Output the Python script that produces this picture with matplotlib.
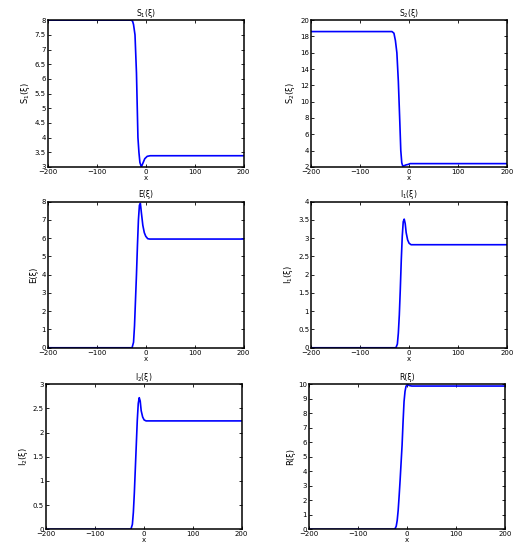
import matplotlib
matplotlib.use("Agg")
import matplotlib.pyplot as plt

# values
x_s1 = [-200, -30, -27, -25, -22, -19, -16, -14, -12, -9, -6, -2, 3, 9, 200]
y_s1 = [8, 8, 7.97, 7.85, 7.5, 6.2, 4.0, 3.5, 3.15, 3.0, 3.12, 3.28, 3.36, 3.38, 3.38]

x_s2 = [-200, -35, -31, -28, -25, -22, -19, -17, -15, -13, -10, -6, -2, 2, 200]
y_s2 = [18.6, 18.6, 18.4, 17.5, 16.0, 12.5, 7.5, 4.0, 2.5, 2.1, 2.15, 2.25, 2.3, 2.4, 2.4]

x_e = [-200, -28, -25, -23, -21, -19, -17, -15, -13, -11, -9, -6, -3, 0, 4, 8, 200]
y_e = [0, 0, 0.3, 1.2, 2.6, 4.0, 5.6, 7.0, 7.8, 7.9, 7.4, 6.7, 6.3, 6.1, 5.97, 5.95, 5.95]

x_i1 = [-200, -27, -24, -22, -20, -18, -16, -14, -12, -10, -8, -6, -3, 0, 4, 8, 200]
y_i1 = [0, 0, 0.1, 0.4, 0.9, 1.6, 2.4, 3.05, 3.45, 3.52, 3.4, 3.15, 2.95, 2.86, 2.82, 2.82, 2.82]

x_i2 = [-200, -26, -23, -21, -19, -17, -15, -13, -11, -9, -7, -5, -2, 1, 5, 10, 200]
y_i2 = [0, 0, 0.1, 0.35, 0.75, 1.25, 1.75, 2.25, 2.6, 2.72, 2.65, 2.45, 2.32, 2.26, 2.24, 2.24, 2.24]

x_r = [-200, -25, -22, -20, -18, -16, -14, -12, -10, -8, -6, -4, -2, 1, 5, 10, 200]
y_r = [0, 0, 0.2, 0.6, 1.3, 2.3, 3.4, 4.6, 5.8, 7.4, 8.8, 9.5, 9.85, 9.98, 9.9, 9.87, 9.87]

titles = ["S$_1$(ξ)", "S$_2$(ξ)", "E(ξ)", "I$_1$(ξ)", "I$_2$(ξ)", "R(ξ)"]
ylims = [(3, 8), (2, 20), (0, 8), (0, 4), (0, 3), (0, 10)]
yticks = [[3, 3.5, 4, 4.5, 5, 5.5, 6, 6.5, 7, 7.5, 8],
          [2, 4, 6, 8, 10, 12, 14, 16, 18, 20],
          [0, 1, 2, 3, 4, 5, 6, 7, 8],
          [0, 0.5, 1, 1.5, 2, 2.5, 3, 3.5, 4],
          [0, 0.5, 1, 1.5, 2, 2.5, 3],
          [0, 1, 2, 3, 4, 5, 6, 7, 8, 9, 10]]
xs = [x_s1, x_s2, x_e, x_i1, x_i2, x_r]
ys = [y_s1, y_s2, y_e, y_i1, y_i2, y_r]

# axes boxes in figure fractions
positions = [[0.090, 0.702, 0.368, 0.262], [0.585, 0.702, 0.368, 0.262],
             [0.090, 0.379, 0.368, 0.261], [0.585, 0.379, 0.368, 0.261],
             [0.086, 0.055, 0.368, 0.259], [0.581, 0.055, 0.368, 0.259]]

fig = plt.figure(figsize=(5.32, 5.60), dpi=100)
for i in range(6):
    ax = fig.add_axes(positions[i])
    ax.plot(xs[i], ys[i], color="#0000ff", lw=1.2)
    ax.set_xlim(-200, 200)
    ax.set_ylim(*ylims[i])
    ax.set_xticks([-200, -100, 0, 100, 200])
    ax.set_yticks(yticks[i])
    ax.set_yticklabels([("%g" % v) for v in yticks[i]])
    ax.tick_params(direction="in", length=2.5, width=0.6, labelsize=5,
                   top=True, right=True, pad=1.5)
    for sp in ax.spines.values():
        sp.set_linewidth(1.1)
    ax.set_title(titles[i], fontsize=5.5, pad=3)
    ax.set_ylabel(titles[i], fontsize=6, labelpad=2)
    ax.set_xlabel("x", fontsize=5, labelpad=0)

fig.savefig("out.png", dpi=100)
